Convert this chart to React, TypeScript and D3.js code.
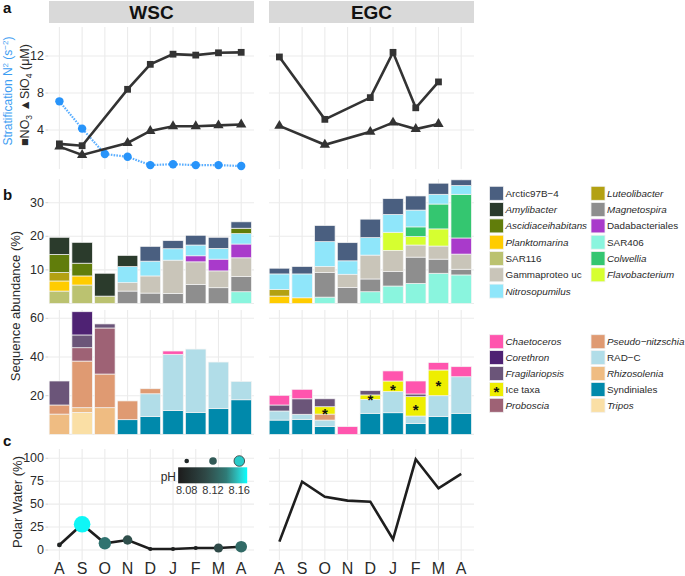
import React from "react";
import * as d3 from "d3";

// ---------- data ----------
const months = ["A", "S", "O", "N", "D", "J", "F", "M", "A"];
const regions = ["WSC", "EGC"];

// panel a (µM and N² share the axis)
const no3WSC = [2.5, 2.3, null, 8.4, 11.1, 12.2, 12.1, 12.35, 12.4];
const sio4WSC = [2.2, 1.3, null, 2.6, 3.9, 4.4, 4.4, 4.5, 4.6];
const n2WSC = [7.1, 4.15, 1.4, 1.1, 0.2, 0.3, 0.2, 0.2, 0.1];
const no3EGC = [11.9, null, 5.15, null, 7.5, 12.4, 6.4, 9.2, null];
const sio4EGC = [4.45, null, 2.4, null, 3.8, 4.8, 4.1, 4.65, null];

// panel b bacteria (first 9 = WSC, last 9 = EGC)
const sar116 = [3.7, 5.5, 2.2, 0, 0, 0, 0, 0, 0, 0, 0, 0, 0, 0, 0, 0, 0, 0];
const planktomarina = [3.0, 2.7, 0, 0, 0, 0, 0, 0, 0, 2.2, 1.7, 0, 0, 0, 0, 0, 0, 0];
const luteolibacter = [2.5, 0, 0, 0, 0, 0, 0, 0, 0, 2.0, 0, 0, 0, 0, 0, 0, 0, 0];
const sar406 = [0, 0, 0, 0, 0, 0, 0, 0, 3.5, 0, 0, 1.9, 0, 3.5, 5.2, 6.0, 9.0, 8.5];
const magnetospira = [0, 0, 0, 3.7, 3.1, 3.0, 5.7, 4.7, 4.5, 0, 0, 7.3, 4.8, 3.8, 4.3, 7.8, 4.2, 1.7];
const gammaproteo = [0, 0, 0, 2.5, 5.1, 9.9, 6.7, 5.0, 5.6, 0, 0, 1.8, 3.9, 7.1, 6.3, 3.6, 3.9, 4.5];
const dadabacteriales = [0, 0, 0, 0, 0, 0, 1.8, 3.5, 4.1, 0, 0, 0, 0, 0, 0, 0, 0, 4.8];
const flavobacterium = [0, 0, 0, 0, 0, 0, 0, 0, 0, 0, 0, 0, 0, 0, 5.4, 2.5, 5.1, 0];
const colwellia = [0, 0, 0, 0, 0, 0, 0, 0, 0, 0, 0, 0, 0, 0, 0, 2.9, 7.4, 13.0];
const nitrosopumilus = [0, 0, 0, 4.8, 4.4, 3.4, 3.2, 3.2, 3.1, 4.6, 7.1, 7.4, 4.0, 5.2, 5.3, 5.0, 2.9, 2.6];
const ascidiaceihabitans = [5.4, 3.8, 0, 0, 0, 0, 0, 0, 1.6, 0, 0, 0, 0, 0, 0, 0, 0, 0];
const amylibacter = [5.1, 6.2, 6.8, 3.3, 0, 0, 0, 0, 0, 0, 0, 0, 0, 0, 0, 0, 0, 0];
const arctic97B4 = [0, 0, 0, 0, 4.4, 2.4, 2.9, 3.3, 1.9, 1.7, 2.2, 4.8, 5.4, 5.5, 4.7, 4.2, 3.3, 1.7];

// panel b eukaryotes
const tripos = [0, 11.4, 0, 0, 0, 0, 0, 0, 0, 0, 0, 0, 0, 0, 0, 0, 0, 0];
const syndiniales = [0, 0, 0, 7.6, 9.2, 12.3, 11.4, 13.3, 17.9, 7.4, 7.8, 4.0, 0, 10.9, 11.2, 5.7, 9.2, 10.9];
const rhizosolenia = [10.5, 2.4, 13.8, 0, 0, 0, 0, 0, 0, 0, 0, 0, 0, 0, 0, 0, 0, 0];
const radC = [0, 0, 0, 0, 11.8, 29.1, 32.7, 24.1, 9.5, 4.7, 2.6, 3.4, 0, 7.2, 10.9, 3.8, 10.8, 18.9];
const pseudoNitzschia = [4.7, 24.1, 17.4, 9.7, 2.6, 0, 0, 0, 0, 0, 0, 3.1, 0, 0, 0, 0, 0, 0];
const proboscia = [0, 6.9, 23.8, 0, 0, 0, 0, 0, 0, 0, 0, 0, 0, 0, 0, 0, 0, 0];
const iceTaxa = [0, 0, 0, 0, 0, 0, 0, 0, 0, 0, 0, 3.8, 0, 2.3, 5.5, 10.0, 13.3, 0];
const fragilariopsis = [12.4, 6.6, 2.1, 0, 0, 0, 0, 0, 0, 3.1, 8.0, 4.1, 0, 2.2, 0, 1.4, 0, 0];
const corethron = [0, 12.0, 0, 0, 0, 0, 0, 0, 0, 0, 0, 0, 0, 0, 0, 0, 0, 0];
const chaetoceros = [0, 0, 0, 0, 0, 1.7, 0, 0, 0, 5.0, 4.9, 0, 4.0, 0, 5.2, 6.7, 3.8, 5.2];

// panel c
const polarWSC = [5.5, 28, 7.3, 10.9, 1.1, 1.1, 2.2, 2.2, 3.6];
const polarEGC = [9.1, 74.5, 58, 53.8, 52.7, 11.7, 98.9, 67.3, 82.9];
const phWSC = [8.075, 8.17, 8.136, 8.113, 8.07, 8.07, 8.07, 8.11, 8.13];
const phLegend = [8.08, 8.12, 8.16];

const yTicksA = [4, 8, 12];
const yTicksB = [10, 20, 30];
const yTicksE = [20, 40, 60];
const yTicksC = [0, 25, 50, 75, 100];

// ---------- taxa definitions (stack order bottom -> top) ----------
const bactTaxa = [
  { name: "SAR116", color: "#BBC270", italic: false, v: sar116 },
  { name: "Planktomarina", color: "#FFCC00", italic: true, v: planktomarina },
  { name: "Luteolibacter", color: "#B3A112", italic: true, v: luteolibacter },
  { name: "SAR406", color: "#8AF5DE", italic: false, v: sar406 },
  { name: "Magnetospira", color: "#8E8E8E", italic: true, v: magnetospira },
  { name: "Gammaproteo uc", color: "#C9C5B9", italic: false, v: gammaproteo },
  { name: "Dadabacteriales", color: "#A93ACB", italic: false, v: dadabacteriales },
  { name: "Flavobacterium", color: "#D6FF30", italic: true, v: flavobacterium },
  { name: "Colwellia", color: "#34C670", italic: true, v: colwellia },
  { name: "Nitrosopumilus", color: "#8FE6FA", italic: true, v: nitrosopumilus },
  { name: "Ascidiaceihabitans", color: "#617D0B", italic: true, v: ascidiaceihabitans },
  { name: "Amylibacter", color: "#2B3B2C", italic: true, v: amylibacter },
  { name: "Arctic97B\u22124", color: "#4A5F80", italic: false, v: arctic97B4 },
];
const bactLegendCols = [
  ["Arctic97B\u22124", "Amylibacter", "Ascidiaceihabitans", "Planktomarina", "SAR116", "Gammaproteo uc", "Nitrosopumilus"],
  ["Luteolibacter", "Magnetospira", "Dadabacteriales", "SAR406", "Colwellia", "Flavobacterium"],
];

const eukTaxa = [
  { name: "Tripos", color: "#FADFA5", italic: true, v: tripos },
  { name: "Syndiniales", color: "#0089AB", italic: false, v: syndiniales },
  { name: "Rhizosolenia", color: "#EFBC82", italic: true, v: rhizosolenia },
  { name: "RAD\u2212C", color: "#B1DDE8", italic: false, v: radC },
  { name: "Pseudo\u2212nitzschia", color: "#DF9A72", italic: true, v: pseudoNitzschia },
  { name: "Proboscia", color: "#9E6275", italic: true, v: proboscia },
  { name: "Ice taxa", color: "#EEEE00", italic: false, v: iceTaxa },
  { name: "Fragilariopsis", color: "#6B5579", italic: true, v: fragilariopsis },
  { name: "Corethron", color: "#4E2273", italic: true, v: corethron },
  { name: "Chaetoceros", color: "#FF55AE", italic: true, v: chaetoceros },
];
const eukLegendCols = [
  ["Chaetoceros", "Corethron", "Fragilariopsis", "Ice taxa", "Proboscia"],
  ["Pseudo\u2212nitzschia", "RAD\u2212C", "Rhizosolenia", "Syndiniales", "Tripos"],
];

// ---------- layout ----------
const FONT = "Liberation Sans, Arial, Helvetica, sans-serif";
const GRID = "#EBEBEB";
const TXT = "#2a2a2a";
const panelX: [number, number][] = [[49, 254], [269, 474]];
const xScales = panelX.map(([a, b]) =>
  d3.scalePoint<number>().domain(d3.range(9)).range([a + 10.4, b - 12.8])
);
const yA = d3.scaleLinear().domain([-0.22, 15.14]).range([169, 27]);
const yB = d3.scaleLinear().domain([0, 37.05]).range([303.5, 179]);
const yE = d3.scaleLinear().domain([0, 64.3]).range([434.4, 310]);
const yC = d3.scaleLinear().domain([-10.9, 110.1]).range([560, 449]);

const rScale = d3.scaleLinear().domain([8.07, 8.17]).range([2.1, 8.3]).clamp(true);
const legendR = d3.scaleLinear().domain([8.08, 8.16]).range([2.3, 5.3]);
const colScale = d3
  .scaleLinear<string>()
  .domain([8.067, 8.11, 8.14, 8.172])
  .range(["#1c1c1c", "#2f4a48", "#2f7a76", "#00ffff"])
  .interpolate(d3.interpolateLab)
  .clamp(true);
const phBar = d3.scaleLinear().domain([8.08, 8.16]).range([186.7, 239.3]);

function Grid({ y, ticks, top, bottom }: any) {
  return (
    <g>
      {panelX.map(([a, b], p) => (
        <g key={p}>
          {ticks.map((t: number) => (
            <line key={"h" + t} x1={a} x2={b} y1={y(t)} y2={y(t)} stroke={GRID} strokeWidth={1.1} />
          ))}
          {d3.range(9).map((i) => (
            <line key={"v" + i} x1={xScales[p](i)} x2={xScales[p](i)} y1={top} y2={bottom} stroke={GRID} strokeWidth={1.1} />
          ))}
        </g>
      ))}
    </g>
  );
}

function YLabels({ y, ticks }: any) {
  return (
    <g>
      {ticks.map((t: number) => (
        <g key={t}>
          <line x1={45.5} x2={48.5} y1={y(t)} y2={y(t)} stroke="#d0d0d0" strokeWidth={1} />
          <text x={44} y={y(t)} textAnchor="end" dominantBaseline="central" fontSize={12.5} fill={TXT}>
            {t}
          </text>
        </g>
      ))}
    </g>
  );
}

function Bars({ taxa, y, ice }: any) {
  const keys = taxa.map((t: any) => t.name);
  const out: any[] = [];
  [0, 1].forEach((p) => {
    const rows = d3.range(9).map((i) => {
      const r: any = { i };
      taxa.forEach((t: any) => (r[t.name] = t.v[p * 9 + i]));
      return r;
    });
    const series = d3.stack<any>().keys(keys)(rows);
    const xs = xScales[p];
    const bw = xs.step() * 0.9;
    series.forEach((s, k) => {
      const tx = taxa[k];
      s.forEach((d: any, i: number) => {
        if (d[1] - d[0] <= 0) return;
        out.push(
          <rect
            key={`${p}-${k}-${i}`}
            x={(xs(i) as number) - bw / 2}
            width={bw}
            y={y(d[1])}
            height={y(d[0]) - y(d[1])}
            fill={tx.color}
            stroke="#F4F4F4"
            strokeWidth={0.7}
          />
        );
        if (ice && tx.name === "Ice taxa") {
          const cy = (y(d[0]) + y(d[1])) / 2;
          out.push(
            <text key={`s${p}-${i}`} x={xs(i)} y={cy + 8.2} textAnchor="middle" fontSize={15} fontWeight="bold" fill="#111">
              *
            </text>
          );
        }
      });
    });
  });
  return <g>{out}</g>;
}

function Legend({ taxa, cols, x0, x1, y0, step }: any) {
  const byName: any = {};
  taxa.forEach((t: any) => (byName[t.name] = t));
  const xs = [x0, x1];
  return (
    <g>
      {cols.map((col: string[], c: number) =>
        col.map((n, r) => {
          const t = byName[n];
          const cy = y0 + r * step;
          return (
            <g key={n}>
              <rect x={xs[c]} y={cy - 7} width={14} height={14} fill={t.color} stroke="#F0F0F0" strokeWidth={0.8} />
              {n === "Ice taxa" && (
                <text x={xs[c] + 7} y={cy + 8} textAnchor="middle" fontSize={15} fontWeight="bold" fill="#111">
                  *
                </text>
              )}
              <text x={xs[c] + 16} y={cy} dominantBaseline="central" fontSize={9.85} fontStyle={t.italic ? "italic" : "normal"} fill={TXT}>
                {n}
              </text>
            </g>
          );
        })
      )}
    </g>
  );
}

export default function App() {
  const lineGen = (xs: any, y: any) =>
    d3
      .line<[number, number]>()
      .x((d) => xs(d[0]))
      .y((d) => y(d[1]));
  const pts = (arr: (number | null)[]) =>
    arr.map((v, i) => [i, v] as [number, number | null]).filter((d) => d[1] != null) as [number, number][];

  const sq = d3.symbol(d3.symbolSquare, 46)();
  const tri = d3.symbol(d3.symbolTriangle, 46)();

  const aSeries = [
    { no3: no3WSC, sio4: sio4WSC },
    { no3: no3EGC, sio4: sio4EGC },
  ];
  const gradStops = d3.range(0, 1.0001, 0.05).map((t) => {
    const ph = 8.067 + t * (8.172 - 8.067);
    return { off: t, c: colScale(ph) };
  });

  return (
    <svg width={685} height={576} style={{ position: "absolute", left: 0, top: 0, fontFamily: FONT }}>
      <defs>
        <linearGradient id="phgrad" x1="0" x2="1" y1="0" y2="0">
          {gradStops.map((s, i) => (
            <stop key={i} offset={s.off} stopColor={s.c} />
          ))}
        </linearGradient>
      </defs>
      <rect width={685} height={576} fill="white" />

      {/* strips */}
      {panelX.map(([a, b], p) => (
        <g key={p}>
          <rect x={a} y={1} width={b - a} height={22} fill="#D9D9D9" />
          <text x={(a + b) / 2} y={12.5} textAnchor="middle" dominantBaseline="central" fontSize={19} fontWeight="bold" fill="#111">
            {regions[p]}
          </text>
        </g>
      ))}

      {/* panel letters */}
      <text x={3} y={13} fontSize={15} fontWeight="bold" fill="#111">a</text>
      <text x={3} y={200} fontSize={15} fontWeight="bold" fill="#111">b</text>
      <text x={3} y={446} fontSize={15} fontWeight="bold" fill="#111">c</text>

      {/* grids */}
      <Grid y={yA} ticks={yTicksA} top={27} bottom={169} />
      <Grid y={yB} ticks={[0, ...yTicksB]} top={179} bottom={303.5} />
      <Grid y={yE} ticks={[0, ...yTicksE]} top={310} bottom={434.4} />
      <Grid y={yC} ticks={yTicksC} top={449} bottom={560} />

      <YLabels y={yA} ticks={yTicksA} />
      <YLabels y={yB} ticks={yTicksB} />
      <YLabels y={yE} ticks={yTicksE} />
      <YLabels y={yC} ticks={yTicksC} />

      {/* axis titles */}
      <text transform="translate(12,91) rotate(-90)" textAnchor="middle" fontSize={12} fill="#3D9DF2">
        Stratification N<tspan dy={-4} fontSize={8}>2</tspan>
        <tspan dy={4}> (s</tspan>
        <tspan dy={-4} fontSize={8}>{"\u22122"}</tspan>
        <tspan dy={4}>)</tspan>
      </text>
      <text transform="translate(28.5,95) rotate(-90)" textAnchor="middle" fontSize={12.5} fill={TXT}>
        {"\u25A0NO"}<tspan dy={3} fontSize={8.5}>3</tspan>
        <tspan dy={-3}>{" \u25B2SiO"}</tspan>
        <tspan dy={3} fontSize={8.5}>4</tspan>
        <tspan dy={-3}>{" (\u03BCM)"}</tspan>
      </text>
      <text transform="translate(20,306) rotate(-90)" textAnchor="middle" fontSize={13} fill={TXT}>
        Sequence abundance (%)
      </text>
      <text transform="translate(21.5,502) rotate(-90)" textAnchor="middle" fontSize={13} fill={TXT}>
        Polar Water (%)
      </text>

      {/* panel a */}
      <path
        d={lineGen(xScales[0], yA)(pts(n2WSC)) || ""}
        fill="none"
        stroke="#5AAEFF"
        strokeWidth={2.2}
        strokeDasharray="1.6,1.2"
      />
      {pts(n2WSC).map(([i, v]) => (
        <circle key={"n2" + i} cx={xScales[0](i)} cy={yA(v)} r={4.2} fill="#2894FA" />
      ))}
      {aSeries.map((s, p) => (
        <g key={"a" + p}>
          <path d={lineGen(xScales[p], yA)(pts(s.no3)) || ""} fill="none" stroke="#333" strokeWidth={2.6} />
          <path d={lineGen(xScales[p], yA)(pts(s.sio4)) || ""} fill="none" stroke="#333" strokeWidth={2.6} />
          {pts(s.no3).map(([i, v]) => (
            <path key={"s" + i} d={sq || ""} transform={`translate(${xScales[p](i)},${yA(v)})`} fill="#333" />
          ))}
          {pts(s.sio4).map(([i, v]) => (
            <path key={"t" + i} d={tri || ""} transform={`translate(${xScales[p](i)},${yA(v)})`} fill="#333" />
          ))}
        </g>
      ))}

      {/* panel b */}
      <Bars taxa={bactTaxa} y={yB} ice={false} />
      <Bars taxa={eukTaxa} y={yE} ice={true} />
      <Legend taxa={bactTaxa} cols={bactLegendCols} x0={489.5} x1={591} y0={193.3} step={16.3} />
      <Legend taxa={eukTaxa} cols={eukLegendCols} x0={489.5} x1={591} y0={341.7} step={15.9} />

      {/* panel c */}
      <path d={lineGen(xScales[0], yC)(pts(polarWSC)) || ""} fill="none" stroke="#1e1e1e" strokeWidth={2.6} />
      {polarWSC.map((v, i) => (
        <circle key={"pw" + i} cx={xScales[0](i)} cy={yC(v)} r={rScale(phWSC[i])} fill={colScale(phWSC[i])} />
      ))}
      <path d={lineGen(xScales[1], yC)(pts(polarEGC)) || ""} fill="none" stroke="#1e1e1e" strokeWidth={2.6} />

      {/* pH legend */}
      {phLegend.map((ph, k) => (
        <circle
          key={"lg" + k}
          cx={phBar(ph)}
          cy={461}
          r={legendR(ph)}
          fill={colScale(ph)}
          stroke={k === 2 ? "#333" : "none"}
          strokeWidth={0.8}
        />
      ))}
      <rect x={phBar(8.067)} y={467.3} width={phBar(8.172) - phBar(8.067)} height={16} fill="url(#phgrad)" />
      <text x={176} y={476.5} textAnchor="end" dominantBaseline="central" fontSize={12} fill={TXT}>
        pH
      </text>
      {phLegend.map((ph) => (
        <text key={"pl" + ph} x={phBar(ph)} y={489.5} textAnchor="middle" dominantBaseline="central" fontSize={11} fill="#333">
          {ph.toFixed(2)}
        </text>
      ))}

      {/* x labels */}
      {[0, 1].map((p) =>
        months.map((m, i) => (
          <text key={`x${p}-${i}`} x={xScales[p](i)} y={568} textAnchor="middle" dominantBaseline="central" fontSize={16} fill={TXT}>
            {m}
          </text>
        ))
      )}
    </svg>
  );
}
